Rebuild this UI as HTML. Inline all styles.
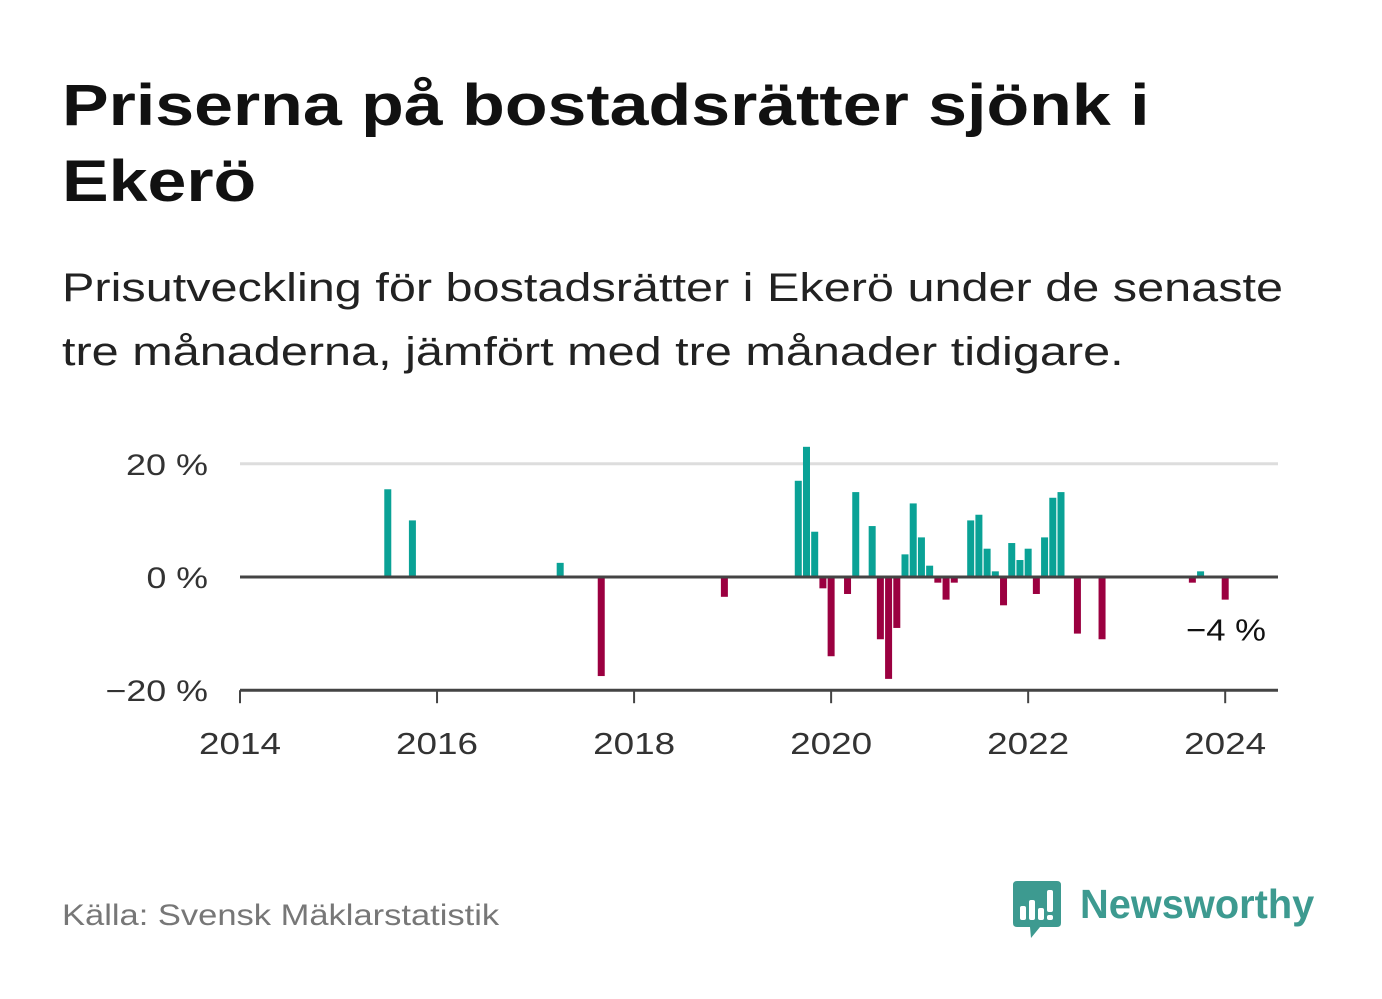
<!DOCTYPE html>
<html><head><meta charset="utf-8"><style>
body{margin:0;width:1382px;height:999px;background:#fff;font-family:"Liberation Sans",sans-serif;overflow:hidden;position:relative}
.t{position:absolute;margin:0;transform-origin:0 0;white-space:nowrap}
</style></head><body>
<h1 class="t" style="left:62px;top:68px;font-size:58px;line-height:76px;font-weight:bold;color:#111;transform:scaleX(1.205)">Priserna på bostadsrätter sjönk i<br>Ekerö</h1>
<p class="t" style="left:62px;top:256px;font-size:40px;line-height:64px;color:#222;transform:scaleX(1.215)">Prisutveckling för bostadsrätter i Ekerö under de senaste<br>tre månaderna, jämfört med tre månader tidigare.</p>
<svg id="chart" width="1382" height="999" style="position:absolute;left:0;top:0"></svg>
<div class="t" style="left:62px;top:899px;font-size:30px;color:#777;transform:scaleX(1.15)">Källa: Svensk Mäklarstatistik</div>
<div class="t" style="left:1012px;top:880px;width:310px;height:60px">
<svg width="52" height="60" style="position:absolute;left:0;top:0">
<path d="M3 1H45Q49 1 49 5V43Q49 47 45 47H28L19 58L18 47H5Q1 47 1 43V5Q1 1 5 1Z" fill="#3d9a90"/>
<rect x="8" y="26" width="6" height="14" rx="2" fill="#fff"/><rect x="17" y="20" width="6" height="20" rx="2" fill="#fff"/><rect x="26" y="28" width="6" height="12" rx="2" fill="#fff"/><rect x="35" y="10" width="6" height="22" rx="2" fill="#fff"/><rect x="35" y="35" width="6" height="5" rx="2" fill="#fff"/>
</svg>
<div style="position:absolute;left:68px;top:0;font-size:41px;font-weight:bold;color:#3d9a90;line-height:48px;transform-origin:0 0;transform:scaleX(0.97)">Newsworthy</div>
</div>
<script>
const months=[18,21,39,44,59,68,69,70,71,72,74,75,77,78,79,80,81,82,83,84,85,86,87,89,90,91,92,93,94,95,96,97,98,99,100,102,105,116,117,120];
const values=[15.5,10,2.5,-17.5,-3.5,17,23,8,-2,-14,-3,15,9,-11,-18,-9,4,13,7,2,-1,-4,-1,10,11,5,1,-5,6,3,5,-3,7,14,15,-10,-11,-1,1,-4];
const yTicks=[20,0,-20];
const yTickLabels=["20 %","0 %","−20 %"];
const xTicks=[2014,2016,2018,2020,2022,2024];
const svg=document.getElementById('chart');const NS='http://www.w3.org/2000/svg';
const x0=240,x1=1278;
const xm=m=>240+m*8.21;
const xy=yr=>xm((yr-2014)*12);
const y=v=>577-v*5.66;
function mk(t,a){const e=document.createElementNS(NS,t);for(const k in a)e.setAttribute(k,a[k]);svg.appendChild(e);return e;}
yTicks.forEach((v,i)=>{
 const l=mk('line',{x1:x0,x2:x1,y1:y(v),y2:y(v),stroke:v===0?'#444':(v<0?'#444':'#ddd'),'stroke-width':3});
 
 
 const lab=yTickLabels[i];
 const t=mk('text',{x:208,y:y(v)+11,'text-anchor':'end','font-size':30,fill:'#333','font-family':'Liberation Sans',textLength:lab.length*20.5,lengthAdjust:'spacingAndGlyphs'});
 t.textContent=lab;
 
 
});
months.forEach((m,i)=>{
 const v=values[i];
 const r=mk('rect',{x:xm(m)-3.5,width:7,y:Math.min(y(v),y(0)),height:Math.abs(y(v)-y(0)),fill:v>=0?'#0aa296':'#9b0040'});
 
 
});
const z=mk('line',{x1:x0,x2:x1,y1:y(0),y2:y(0),stroke:'#444','stroke-width':3});


xTicks.forEach(yr=>{
 const l=mk('line',{x1:xy(yr),x2:xy(yr),y1:y(-20),y2:y(-20)+13,stroke:'#444','stroke-width':2});
 
 
 const t=mk('text',{x:xy(yr),y:754,'text-anchor':'middle','font-size':31,fill:'#333','font-family':'Liberation Sans',textLength:82,lengthAdjust:'spacingAndGlyphs'});
 t.textContent=yr;
 
 
});
const lastI=values.length-1;
const a=mk('text',{x:1266,y:y(values[lastI])+41,'text-anchor':'end','font-size':31,fill:'#111','font-family':'Liberation Sans',textLength:80,lengthAdjust:'spacingAndGlyphs'});
a.textContent='−4 %';


</script>
</body></html>
